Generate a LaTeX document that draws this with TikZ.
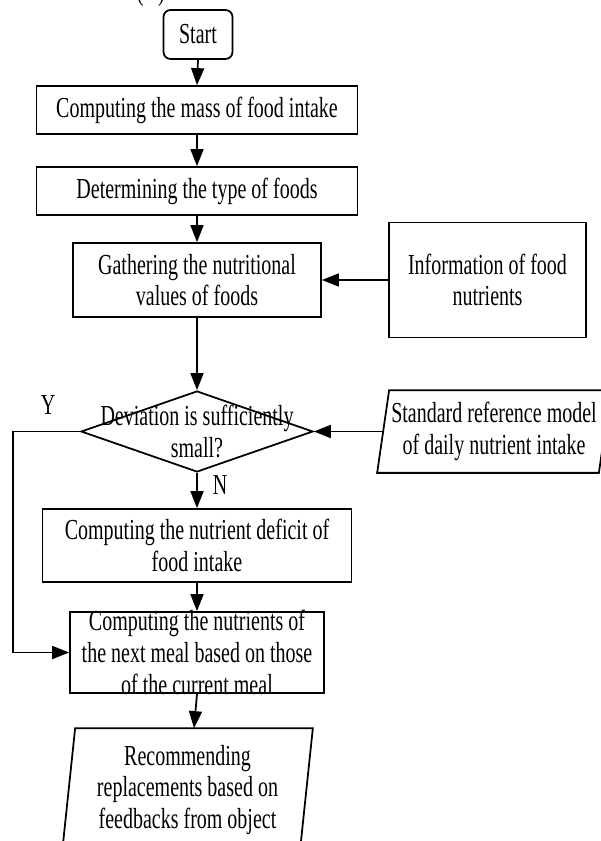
\documentclass[tikz,border=0pt]{standalone}
\usepackage{fontspec}
\setmainfont{Liberation Serif}[FakeStretch=0.69]
\usetikzlibrary{shapes.geometric,arrows.meta}

\begin{document}
\begin{tikzpicture}[x=0.02cm, y=-0.02cm, line width=1pt,
		font=\fontsize{16.5pt}{18pt}\selectfont,
		box/.style={draw, rectangle, align=center, inner sep=0},
		slantbody/.style={rectangle, align=center, inner sep=0},
		decision/.style={draw, diamond, inner sep=0},
		arr/.style={-{Triangle[length=0.34cm,width=0.26cm]}}]
	\useasboundingbox (0,0) rectangle (601,841);
	\node [anchor=base] at (145,0.5) (cap) {r (D)};
	\node [box, rounded corners=0.14cm, minimum width=1.38cm, minimum height=0.98cm] at (198,34.5) (start) {Start};
	\node [box, minimum width=6.42cm, minimum height=0.96cm] at (197,110) (mass) {Computing the mass of food intake};
	\node [box, minimum width=6.42cm, minimum height=0.96cm] at (197,191) (type) {Determining the type of foods};
	\node [box, minimum width=4.96cm, minimum height=1.48cm] at (197,280) (gather) {Gathering the nutritional\\values of foods};
	\node [box, minimum width=3.94cm, minimum height=2.3cm] at (487.5,280) (info) {Information of food\\nutrients};
	\node [decision, minimum width=4.64cm, minimum height=1.62cm,
		label={[align=center]center:{Deviation is sufficiently\\small?}}] at (197,431.5) (dev) {};
	% input shapes: slanted sides drawn round a plain body
	\node [slantbody, minimum width=4.4cm, minimum height=1.62cm] at (494,431.5) (std) {Standard reference model\\of daily nutrient intake};
	\draw ([xshift=0.12cm]std.north west) -- ([xshift=0.12cm]std.north east) -- ([xshift=-0.12cm]std.south east) -- ([xshift=-0.12cm]std.south west) -- cycle;
	\node [box, minimum width=6.18cm, minimum height=1.46cm] at (197,545.5) (deficit) {Computing the nutrient deficit of\\food intake};
	\node [box, minimum width=5.08cm, minimum height=1.62cm,
		label={[align=center]center:{Computing the nutrients of\\the next meal based on those\\of the current meal}}] at (197,652.5) (next) {};
	\node [slantbody, minimum width=4.72cm, minimum height=2.44cm] at (187.5,790) (rec) {Recommending\\replacements based on\\feedbacks from object};
	\draw ([xshift=0.13cm]rec.north west) -- ([xshift=0.13cm]rec.north east) -- ([xshift=-0.13cm]rec.south east) -- ([xshift=-0.13cm]rec.south west) -- cycle;
	\coordinate (rectop) at ([xshift=0.13cm]rec.north);
	\node at (48,405) (yes) {Y};
	\node at (220,485) (no) {N};

	\draw [arr] (start.south) -- (mass.north);
	\draw [arr] (mass.south) -- (type.north);
	\draw [arr] (type.south) -- (gather.north);
	\draw [arr] (info.west) -- (gather.east);
	\draw [arr] (gather.south) -- (dev.north);
	\draw [arr] (std.west) -- (dev.east);
	\draw [arr] (dev.south) -- (deficit.north);
	\draw [arr] (dev.west) -- ++(-67,0) |- (next.west);
	\draw [arr] (deficit.south) -- (next.north);
	\draw [arr] (next.south) -- (rectop);
\end{tikzpicture}
\end{document}
